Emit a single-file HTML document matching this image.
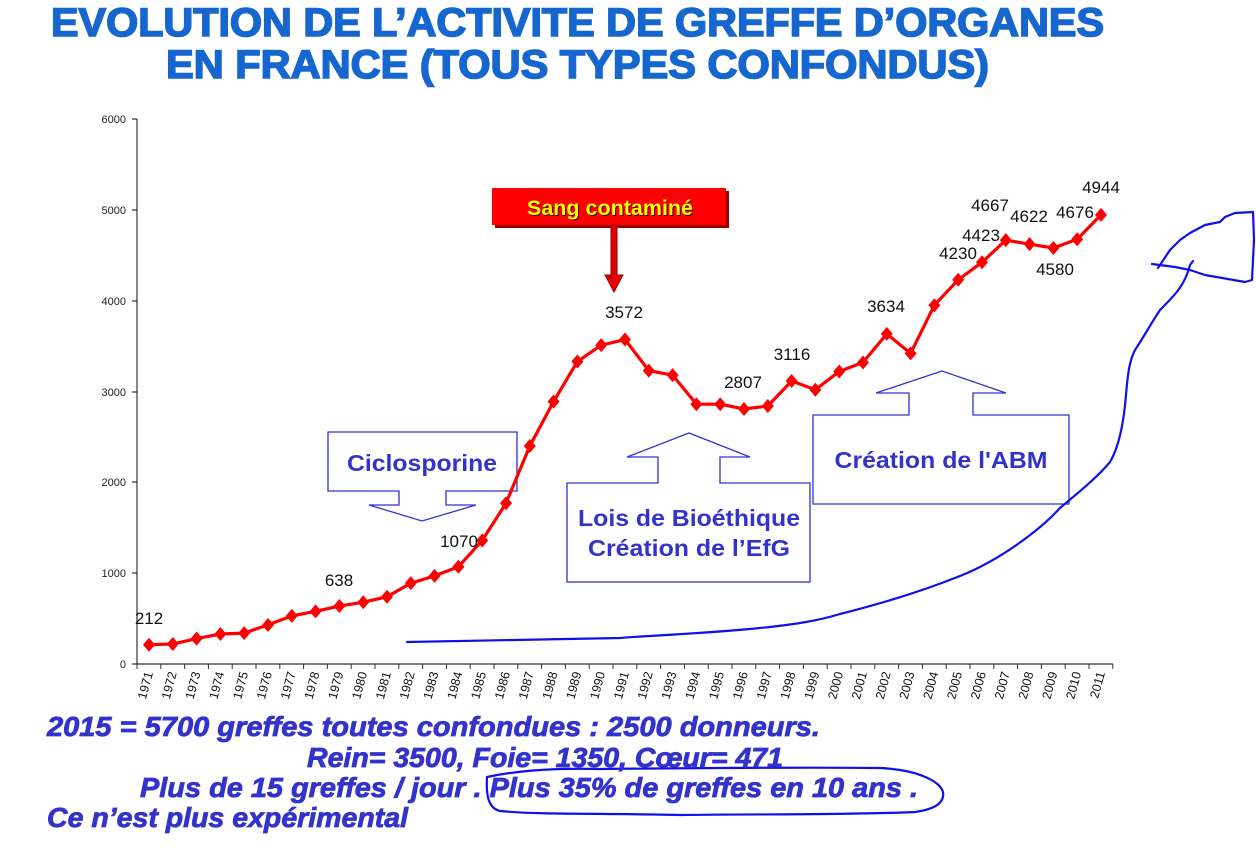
<!DOCTYPE html>
<html><head><meta charset="utf-8"><style>
html,body{margin:0;padding:0;background:#fff;width:1256px;height:866px;overflow:hidden}
svg{display:block}
</style></head><body>
<svg width="1256" height="866" viewBox="0 0 1256 866" xmlns="http://www.w3.org/2000/svg" font-family="Liberation Sans, Arial, sans-serif">
<!-- title -->
<g fill="#1666cf" stroke="#1666cf" stroke-width="1.6" font-weight="bold" font-size="40">
<text x="51" y="36" textLength="1053" lengthAdjust="spacingAndGlyphs">EVOLUTION DE L’ACTIVITE DE GREFFE D’ORGANES</text>
<text x="166" y="78" textLength="823" lengthAdjust="spacingAndGlyphs">EN FRANCE (TOUS TYPES CONFONDUS)</text>
</g>
<!-- axes -->
<g stroke="#333" stroke-width="1.2" fill="none">
<line x1="137" y1="119" x2="137" y2="664"/>
<line x1="137" y1="664" x2="1113" y2="664"/>
<line x1="132" y1="119" x2="137" y2="119"/><line x1="132" y1="210" x2="137" y2="210"/><line x1="132" y1="301" x2="137" y2="301"/><line x1="132" y1="392" x2="137" y2="392"/><line x1="132" y1="482" x2="137" y2="482"/><line x1="132" y1="573" x2="137" y2="573"/><line x1="132" y1="664" x2="137" y2="664"/>
</g>
<g font-size="11" fill="#222" text-anchor="end">
<text x="126" y="123">6000</text><text x="126" y="214">5000</text><text x="126" y="305">4000</text><text x="126" y="396">3000</text><text x="126" y="486">2000</text><text x="126" y="577">1000</text><text x="126" y="668">0</text>
</g>
<g id="xt"></g>
<!-- callouts -->
<g fill="#fff" stroke="#3333cc" stroke-width="1.3">
<path d="M328,432 H517 V491 H446 V505 H476 L422,521 L369,505 H399 V491 H328 Z"/>
<path d="M567,483 H658 V457 H627 L689,433 L750,457 H720 V483 H810 V582 H567 Z"/>
<path d="M813,415 H909 V393 H876 L942,371 L1006,393 H973 V415 H1069 V504 H813 Z"/>
</g>
<g fill="#3333cc" font-weight="bold" font-size="23" text-anchor="middle">
<text x="422" y="471" textLength="150" lengthAdjust="spacingAndGlyphs">Ciclosporine</text>
<text x="689" y="526" textLength="222" lengthAdjust="spacingAndGlyphs">Lois de Bioéthique</text>
<text x="689" y="556" textLength="202" lengthAdjust="spacingAndGlyphs">Création de l’EfG</text>
<text x="941" y="468" textLength="213" lengthAdjust="spacingAndGlyphs">Création de l'ABM</text>
</g>
<!-- sang contaminé -->
<rect x="495" y="191" width="234" height="37" fill="#900"/>
<rect x="492" y="188" width="234" height="37" fill="#ff0000"/>
<text x="611" y="216" text-anchor="middle" font-weight="bold" font-size="21" fill="#400" textLength="166" lengthAdjust="spacingAndGlyphs">Sang contaminé</text>
<text x="610" y="215" text-anchor="middle" font-weight="bold" font-size="21" fill="#ffff00" textLength="166" lengthAdjust="spacingAndGlyphs">Sang contaminé</text>
<path d="M611,225 H617 V275 H623 L614,292 L605,275 H611 Z" fill="#e00000" stroke="#900" stroke-width="1"/>
<!-- series -->
<g id="ser"></g>
<g font-size="17" fill="#111" text-anchor="middle">
<text x="149" y="624">212</text><text x="339" y="586">638</text><text x="459" y="547">1070</text>
<text x="624" y="318">3572</text><text x="743" y="388">2807</text><text x="792" y="360">3116</text>
<text x="886" y="312">3634</text><text x="958" y="259">4230</text><text x="981" y="241">4423</text>
<text x="990" y="211">4667</text><text x="1029" y="222">4622</text><text x="1075" y="218">4676</text>
<text x="1055" y="275">4580</text><text x="1101" y="193">4944</text>
</g>
<!-- hand drawing -->
<g fill="none" stroke="#1010ee" stroke-width="2.2" stroke-linecap="round" stroke-linejoin="round">
<path d="M407,642 L620,638 C640,636 700,634 760,628 C800,624 820,620 840,614 C880,604 920,592 960,576 C1000,560 1040,530 1060,508 C1075,495 1095,480 1110,462 C1120,445 1124,420 1126,395 C1128,370 1130,360 1135,350 C1145,335 1150,325 1160,310 C1175,295 1185,285 1190,265 L1193,261"/>
<path d="M1152,264 L1175,267 L1190,270 L1205,275 L1245,282 L1252,280 L1254,240 L1253,212 L1235,213 L1225,217 L1220,222 L1205,225 L1190,233 L1180,240 L1170,250 L1158,268"/>
<path d="M487,777 C520,770 560,768 600,769 C700,768 800,767 880,768 C920,770 940,782 943,792 C945,805 930,810 915,812 C850,815 750,814 680,815 C600,813 540,815 500,811 C488,808 486,795 487,777"/>
</g>
<!-- bottom text -->
<g fill="#3333cc" stroke="#3333cc" stroke-width="0.8" font-weight="bold" font-style="italic" font-size="28">
<text x="47" y="736" textLength="773" lengthAdjust="spacingAndGlyphs">2015 = 5700 greffes toutes confondues : 2500  donneurs.</text>
<text x="307" y="767" textLength="476" lengthAdjust="spacingAndGlyphs">Rein= 3500, Foie= 1350, Cœur= 471</text>
<text x="140" y="797" textLength="778" lengthAdjust="spacingAndGlyphs">Plus de 15  greffes / jour . Plus 35% de greffes en 10 ans .</text>
<text x="47" y="827" textLength="361" lengthAdjust="spacingAndGlyphs">Ce n’est plus expérimental</text>
</g>
<script>
var v=[212,220,280,330,340,430,530,580,638,680,740,890,970,1070,1360,1770,2400,2890,3330,3510,3572,3230,3180,2860,2860,2807,2840,3116,3020,3220,3320,3634,3420,3950,4230,4423,4667,4622,4580,4676,4944];
var ns="http://www.w3.org/2000/svg";
function X(i){return 149+23.8*i}function Y(a){return 664-a*0.09083}
var s=document.getElementById('ser'),p="";
v.forEach(function(a,i){p+=(i?"L":"M")+X(i).toFixed(1)+","+Y(a).toFixed(1)});
var pl=document.createElementNS(ns,'path');pl.setAttribute('d',p);pl.setAttribute('fill','none');pl.setAttribute('stroke','#ff0000');pl.setAttribute('stroke-width','3.2');s.appendChild(pl);
v.forEach(function(a,i){var d=document.createElementNS(ns,'path');var x=X(i),y=Y(a);d.setAttribute('d','M'+x+','+(y-7)+'L'+(x+6)+','+y+'L'+x+','+(y+7)+'L'+(x-6)+','+y+'Z');d.setAttribute('fill','#ff0000');s.appendChild(d);});
var t=document.getElementById('xt');
for(var i=0;i<=41;i++){var l=document.createElementNS(ns,'line');var x=137+23.8*i;l.setAttribute('x1',x);l.setAttribute('x2',x);l.setAttribute('y1',664);l.setAttribute('y2',669);l.setAttribute('stroke','#333');t.appendChild(l);}
for(var i=0;i<41;i++){var tx=document.createElementNS(ns,'text');var x=X(i)+4,y=673;tx.setAttribute('x',x);tx.setAttribute('y',y);tx.setAttribute('font-size','12.5');tx.setAttribute('fill','#111');tx.setAttribute('text-anchor','end');tx.setAttribute('transform','rotate(-75 '+x+' '+y+')');tx.textContent=1971+i;t.appendChild(tx);}
</script>
</svg>
</body></html>
